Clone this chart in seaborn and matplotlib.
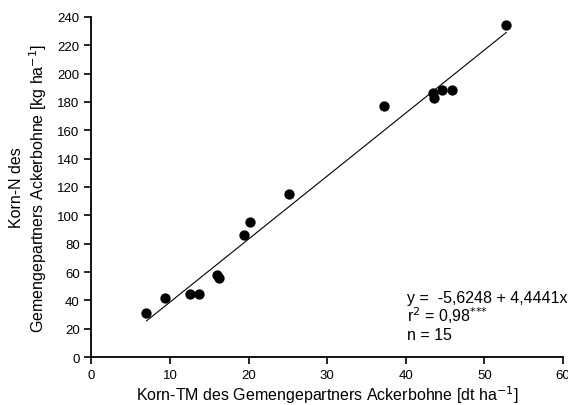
import numpy as np
import pandas as pd
import matplotlib
matplotlib.use("Agg")
import matplotlib.pyplot as plt
import seaborn as sns

# Korn-TM (dt/ha) and Korn-N (kg/ha) of the faba bean partner
korn_tm = [7.0, 9.3, 12.6, 13.7, 16.0, 16.2, 19.4, 20.2, 25.2, 37.2, 43.5, 43.6, 44.6, 45.9, 52.8]
korn_n = [31, 42, 44.5, 44.5, 58, 55.5, 86, 95, 115, 177, 186, 183, 188.5, 188.5, 234]

intercept = -5.6248
slope = 4.4441

data = pd.DataFrame({"tm": korn_tm, "n": korn_n})

sns.set_style("ticks")
plt.rcParams["font.family"] = ["Liberation Sans", "DejaVu Sans"]
plt.rcParams["text.color"] = "black"
plt.rcParams["axes.labelcolor"] = "black"

fig = plt.figure(figsize=(5.68, 4.06), dpi=100)
ax = fig.add_axes([0.161, 0.118, 0.830, 0.838])

sns.scatterplot(data=data, x="tm", y="n", color="black", s=55, edgecolor="black",
                linewidth=0, ax=ax, zorder=3)

# fitted regression line over the range of the data
line_x = np.linspace(min(korn_tm), max(korn_tm), 50)
line = pd.DataFrame({"x": line_x, "y": intercept + slope * line_x})
sns.lineplot(data=line, x="x", y="y", color="black", linewidth=0.8, ax=ax)

ax.set_xlim(0, 60)
ax.set_ylim(0, 240)
ax.set_xticks(range(0, 61, 10))
ax.set_yticks(range(0, 241, 20))
ax.tick_params(axis="both", labelsize=9.5, length=5, width=1.2, direction="out",
               colors="black", labelcolor="black")
for side in ["left", "bottom"]:
    ax.spines[side].set_linewidth(1.3)
    ax.spines[side].set_color("black")
sns.despine(ax=ax)

ax.set_xlabel("Korn-TM des Gemengepartners Ackerbohne [dt ha$^{-1}$]", fontsize=11.5, labelpad=2)
ax.set_ylabel("Korn-N des\nGemengepartners Ackerbohne [kg ha$^{-1}$]", fontsize=11.5, labelpad=6)

ax.text(40.2, 39, "y =  -5,6248 + 4,4441x", fontsize=11.5, va="baseline")
ax.text(40.2, 25.5, "r$^2$ = 0,98$^{{*}{*}{*}}$", fontsize=11.5, va="baseline")
ax.text(40.2, 12.5, "n = 15", fontsize=11.5, va="baseline")

fig.savefig("out.png", dpi=100)
